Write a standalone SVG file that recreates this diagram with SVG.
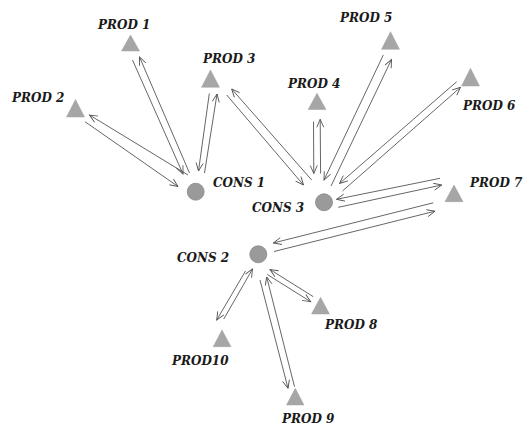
<svg xmlns="http://www.w3.org/2000/svg" width="526" height="426" viewBox="0 0 526 426">
<style>
.prod{fill:#a6a6a6;stroke:#a0a0a0;stroke-width:0.5}
.cons{fill:#9a9a9a;stroke:#8a8a8a;stroke-width:0.8}
.lbl{font-family:"DejaVu Serif",serif;font-weight:bold;font-style:italic;font-size:12px;fill:#1a1a1a}
.c line{stroke:#555;stroke-width:0.9;fill:none;marker-end:url(#ah)}
</style>
<defs>
<marker id="ah" markerUnits="userSpaceOnUse" markerWidth="12" markerHeight="10" refX="9" refY="4" orient="auto">
<path d="M1,0.5 L9,4 L1,7.5" fill="none" stroke="#555" stroke-width="0.9"/>
</marker>
</defs>
<rect width="526" height="426" fill="#fff"/>
<g class="c" id="connectors">
<line x1="132.5" y1="60" x2="183" y2="174"/>
<line x1="189.5" y1="173" x2="139.5" y2="57"/>
<line x1="85" y1="121.7" x2="178" y2="186.5"/>
<line x1="188" y1="175" x2="89.5" y2="115"/>
<line x1="209.3" y1="93.5" x2="198.5" y2="171"/>
<line x1="204.5" y1="173" x2="217" y2="94"/>
<line x1="226.7" y1="95" x2="303.5" y2="185"/>
<line x1="311.7" y1="180" x2="231.7" y2="89"/>
<line x1="313.5" y1="121.7" x2="313.8" y2="173.5"/>
<line x1="320.6" y1="173.5" x2="320.2" y2="119.3"/>
<line x1="383.3" y1="55" x2="324" y2="180"/>
<line x1="331" y1="186" x2="391.5" y2="59.5"/>
<line x1="456.7" y1="81.7" x2="339.5" y2="183.5"/>
<line x1="342.5" y1="191" x2="460.5" y2="87.3"/>
<line x1="440" y1="178.3" x2="336.5" y2="199.3"/>
<line x1="338.3" y1="207.3" x2="441.7" y2="185"/>
<line x1="433.3" y1="202.8" x2="273.3" y2="243"/>
<line x1="274" y1="251.5" x2="435" y2="211.2"/>
<line x1="313.3" y1="296.7" x2="270" y2="269.5"/>
<line x1="267.3" y1="274.5" x2="310.7" y2="301.7"/>
<line x1="260" y1="280" x2="288" y2="388.3"/>
<line x1="294.5" y1="386.7" x2="266.7" y2="277"/>
<line x1="245.5" y1="271" x2="216.7" y2="320"/>
<line x1="223.8" y1="319" x2="252.5" y2="269"/>
</g>
<g id="prod1"><polygon class="prod" points="130.5,35 121.5,51 139.5,51"/><text class="lbl" x="98" y="29">PROD 1</text></g>
<g id="prod2"><polygon class="prod" points="75.5,99.5 66.5,117 84.5,117"/><text class="lbl" x="12" y="102">PROD 2</text></g>
<g id="prod3"><polygon class="prod" points="210.5,70 201.5,87.3 219.5,87.3"/><text class="lbl" x="203" y="63">PROD 3</text></g>
<g id="prod4"><polygon class="prod" points="317,93.3 308.2,109.5 326,109.5"/><text class="lbl" x="288" y="88">PROD 4</text></g>
<g id="prod5"><polygon class="prod" points="390.5,31.7 381.5,49.3 399.5,49.3"/><text class="lbl" x="340" y="22">PROD 5</text></g>
<g id="prod6"><polygon class="prod" points="470.5,68.3 461.5,86 479.5,86"/><text class="lbl" x="463" y="110">PROD 6</text></g>
<g id="prod7"><polygon class="prod" points="454,185 445,201.7 463,201.7"/><text class="lbl" x="470" y="187">PROD 7</text></g>
<g id="prod8"><polygon class="prod" points="320.5,297.3 311.5,314 329.5,314"/><text class="lbl" x="325" y="329">PROD 8</text></g>
<g id="prod9"><polygon class="prod" points="295.3,388.3 286.5,405 304,405"/><text class="lbl" x="282" y="423">PROD 9</text></g>
<g id="prod10"><polygon class="prod" points="222,330 213.2,346.7 231,346.7"/><text class="lbl" x="172" y="365">PROD10</text></g>
<g id="cons1"><circle class="cons" cx="195.7" cy="191.7" r="8.5"/><text class="lbl" x="213" y="187">CONS 1</text></g>
<g id="cons3"><circle class="cons" cx="324" cy="202.3" r="8.5"/><text class="lbl" x="252" y="212">CONS 3</text></g>
<g id="cons2"><circle class="cons" cx="258.3" cy="254.3" r="8.5"/><text class="lbl" x="177" y="262">CONS 2</text></g>
</svg>
